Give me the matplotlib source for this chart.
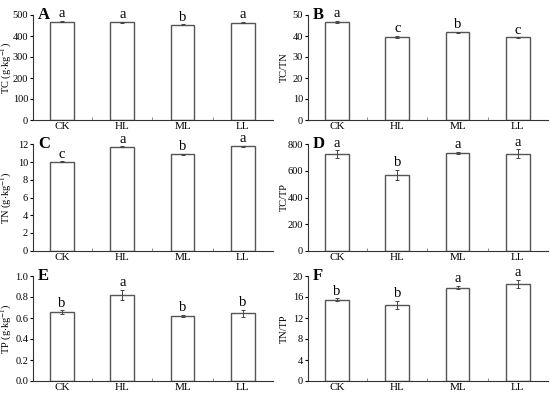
import matplotlib
matplotlib.use("Agg")
import matplotlib.pyplot as plt
import numpy as np

plt.rcParams['font.family'] = ['Liberation Serif', 'DejaVu Serif']
plt.rcParams['mathtext.fontset'] = 'stix'

categories = ["CK", "HL", "ML", "LL"]

tc_vals = [469, 466, 454, 464]
tc_err = [4, 3, 2, 3]
tc_sig = ["a", "a", "b", "a"]

tctn_vals = [46.7, 39.6, 41.7, 39.3]
tctn_err = [0.6, 0.5, 0.2, 0.2]
tctn_sig = ["a", "c", "b", "c"]

tn_vals = [10.05, 11.75, 10.9, 11.78]
tn_err = [0.05, 0.06, 0.05, 0.05]
tn_sig = ["c", "a", "b", "a"]

tctp_vals = [728, 571, 738, 730]
tctp_err = [29, 37, 8, 34]
tctp_sig = ["a", "b", "a", "a"]

tp_vals = [0.653, 0.822, 0.621, 0.643]
tp_err = [0.019, 0.048, 0.008, 0.034]
tp_sig = ["b", "a", "b", "b"]

tntp_vals = [15.5, 14.5, 17.8, 18.5]
tntp_err = [0.3, 0.8, 0.3, 0.8]
tntp_sig = ["b", "b", "a", "a"]

panels = [
    ("A", tc_vals, tc_err, tc_sig, r"TC (g$\cdot$kg$^{-1}$)", (0, 500), np.arange(0, 501, 100), "{:.0f}"),
    ("B", tctn_vals, tctn_err, tctn_sig, "TC/TN", (0, 50), np.arange(0, 51, 10), "{:.0f}"),
    ("C", tn_vals, tn_err, tn_sig, r"TN (g$\cdot$kg$^{-1}$)", (0, 12), np.arange(0, 13, 2), "{:.0f}"),
    ("D", tctp_vals, tctp_err, tctp_sig, "TC/TP", (0, 800), np.arange(0, 801, 200), "{:.0f}"),
    ("E", tp_vals, tp_err, tp_sig, r"TP (g$\cdot$kg$^{-1}$)", (0, 1.0), np.arange(0, 1.01, 0.2), "{:.1f}"),
    ("F", tntp_vals, tntp_err, tntp_sig, "TN/TP", (0, 20), np.arange(0, 21, 4), "{:.0f}"),
]

W, H = 550, 396
fig = plt.figure(figsize=(W / 100, H / 100), dpi=100)

lefts = [33, 308]
width = 240
rows = [(15, 120), (144.5, 250.5), (276, 381)]

x = np.arange(len(categories))
for i, (letter, vals, err, sig, ylabel, ylim, yticks, fmt) in enumerate(panels):
    r, c = divmod(i, 2)
    top, bottom = rows[r]
    ax = fig.add_axes([lefts[c] / W, 1 - bottom / H, width / W, (bottom - top) / H])
    ax.bar(x, vals, width=0.39, color="white", edgecolor="#555555", linewidth=1.0, zorder=2)
    ax.errorbar(x, vals, yerr=err, fmt="none", ecolor="#444444", elinewidth=0.7, capsize=1.5, capthick=0.7, zorder=3)
    ax.set_xlim(-0.48, 3.5)
    ax.set_ylim(*ylim)
    ax.set_yticks(yticks)
    ax.set_yticklabels([fmt.format(t) for t in yticks])
    ax.set_xticks(x)
    ax.set_xticklabels(categories)
    ax.set_xticks([0.5, 1.5, 2.5], minor=True)
    ax.tick_params(axis="x", which="major", length=0, labelsize=8, pad=1.5)
    ax.tick_params(axis="x", which="minor", length=2, width=0.6, direction="in", color="#777777")
    ax.tick_params(axis="y", which="major", length=2.5, width=0.8, direction="out", labelsize=7.5, pad=1)
    for s in ["top", "right"]:
        ax.spines[s].set_visible(False)
    for s in ["left", "bottom"]:
        ax.spines[s].set_linewidth(0.8)
        ax.spines[s].set_color("#333333")
    ax.set_ylabel(ylabel, fontsize=7.5)
    ax.yaxis.set_label_coords(-0.08, 0.5)
    span = ylim[1] - ylim[0]
    for xi, v, e, s in zip(x, vals, err, sig):
        ax.text(xi, v + e + span * 0.005, s, ha="center", va="bottom", fontsize=10.5, clip_on=False)
    ax.text(0.02, 1.08, letter, transform=ax.transAxes, ha="left", va="top",
            fontsize=12, fontweight="bold")

fig.savefig("out.png", dpi=100)
